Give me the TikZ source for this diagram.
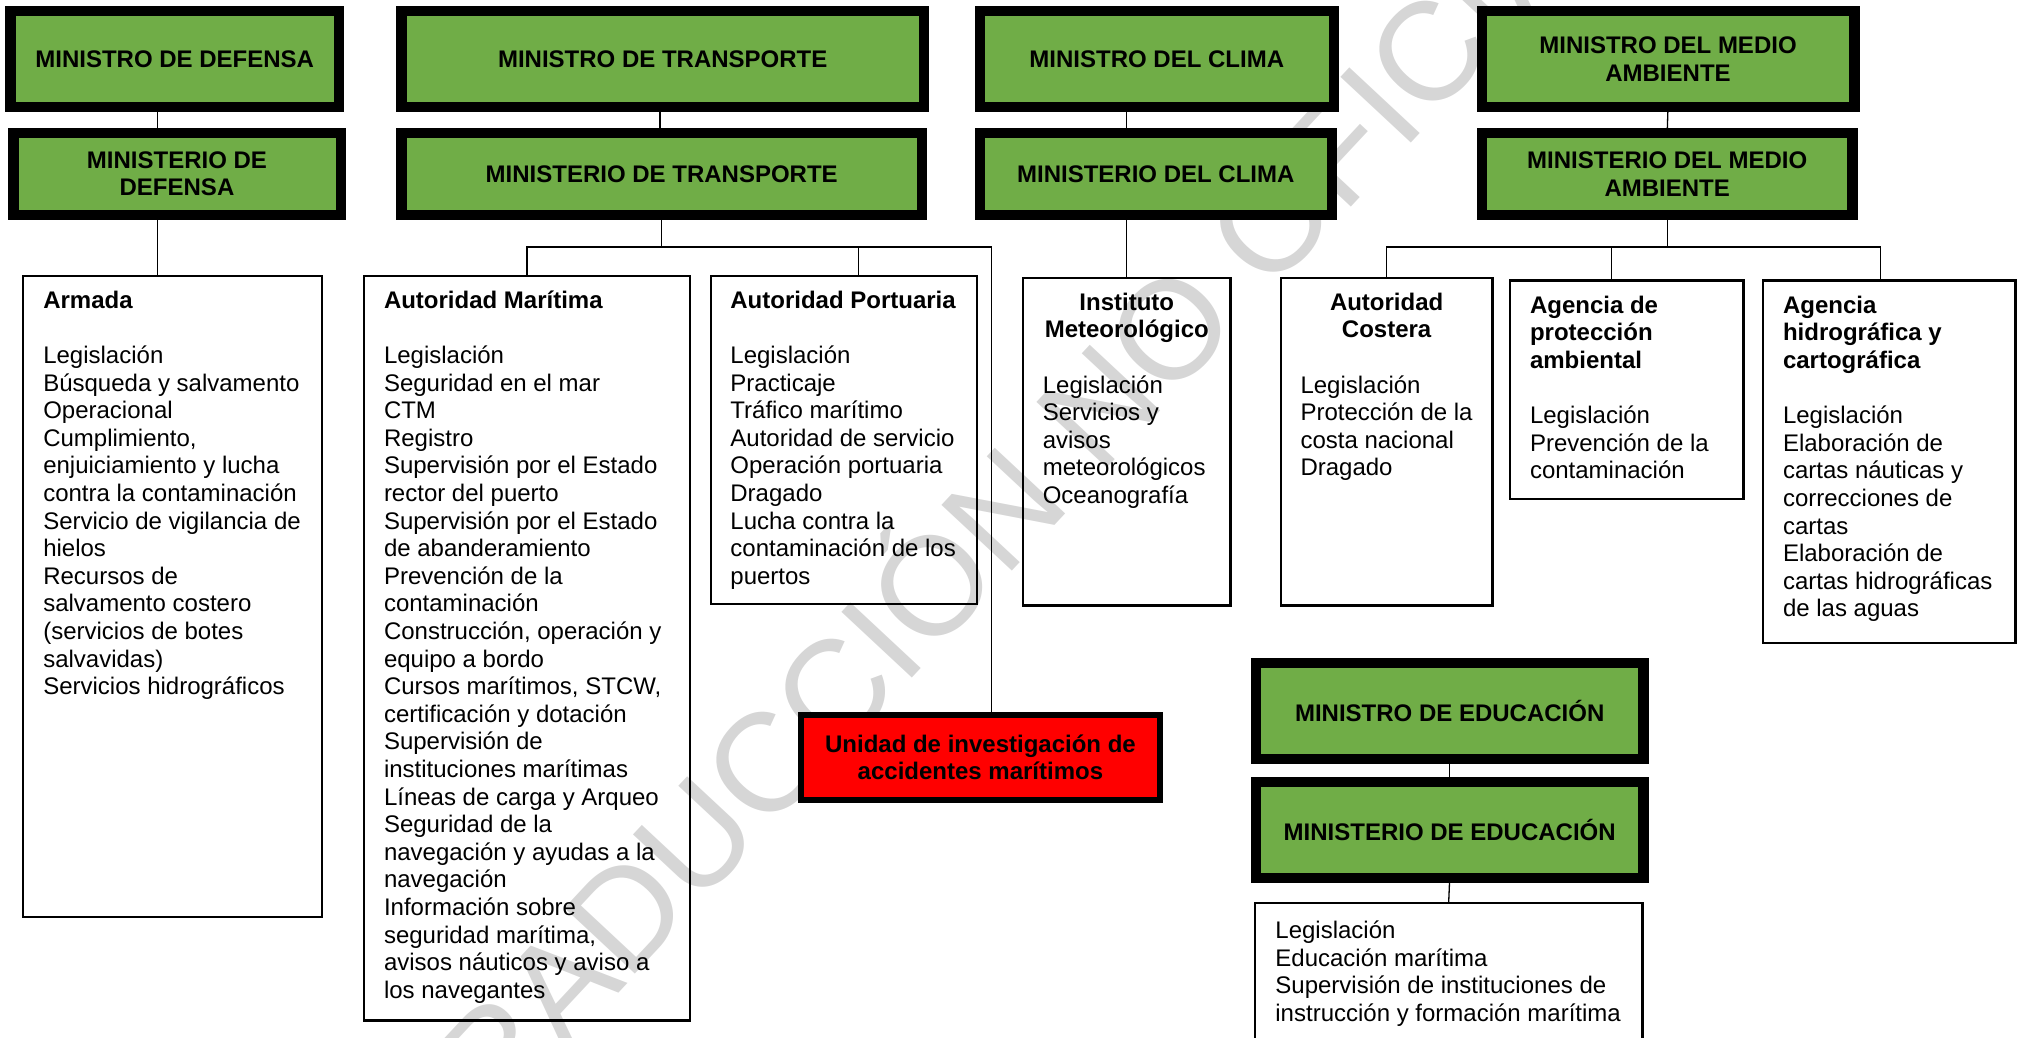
\documentclass[tikz,border=0pt]{standalone}
\usepackage{fontspec}
\setmainfont{Liberation Sans}
\usetikzlibrary{calc}
\definecolor{mingreen}{RGB}{112,173,71}
\definecolor{wmgray}{RGB}{214,214,214}
\tikzset{
  gbox/.style={draw=black, line width=10.5pt, fill=mingreen, inner sep=0pt, outer sep=0pt,
    align=center, font=\fontsize{24}{27.6}\selectfont\bfseries},
  wbox/.style={draw=black, line width=2.4pt, inner sep=0pt, outer sep=0pt},
  rbox/.style={draw=black, line width=6pt, fill=red, inner sep=0pt, outer sep=0pt,
    align=center, font=\fontsize{24}{27.6}\selectfont\bfseries},
  txt/.style={inner sep=0pt, outer sep=0pt, align=left, anchor=north west,
    font=\fontsize{24}{27.6}\selectfont},
  ttl/.style={inner sep=0pt, outer sep=0pt, align=center, anchor=north,
    font=\fontsize{24}{27.6}\selectfont\bfseries},
  conn/.style={draw=black, line width=1.3pt},
  wm/.style={inner sep=0pt, outer sep=0pt, rotate=47, text=wmgray,
    font=\fontsize{140}{140}\selectfont},
}
\begin{document}
\begin{tikzpicture}[x=1pt,y=-1pt]
\useasboundingbox (0,0) rectangle (2027,1038);
% watermark
\node[wm] (wm) at (995,501) {TRADUCCIÓN NO OFICIAL};

% ministers (top row)
\node[gbox, minimum width=328.1pt, minimum height=96.1pt] (g1) at (174.7,59) {MINISTRO DE DEFENSA};
\node[gbox, minimum width=327.5pt, minimum height=81.8pt] (g2) at (177,173.85) {MINISTERIO DE\\DEFENSA};
\node[gbox, minimum width=522.1pt, minimum height=96.1pt] (g3) at (662.7,59) {MINISTRO DE TRANSPORTE};
\node[gbox, minimum width=520.1pt, minimum height=81.8pt] (g4) at (661.7,173.85) {MINISTERIO DE TRANSPORTE};
\node[gbox, minimum width=353.9pt, minimum height=96.1pt] (g5) at (1156.8,59) {MINISTRO DEL CLIMA};
\node[gbox, minimum width=351.9pt, minimum height=81.8pt] (g6) at (1155.8,173.85) {MINISTERIO DEL CLIMA};
\node[gbox, minimum width=372.5pt, minimum height=96.1pt] (g7) at (1668,59) {MINISTRO DEL MEDIO\\AMBIENTE};
\node[gbox, minimum width=370.8pt, minimum height=81.8pt] (g8) at (1667.2,173.85) {MINISTERIO DEL MEDIO\\AMBIENTE};
\node[gbox, minimum width=387.7pt, minimum height=95.8pt] (g9) at (1449.7,710.85) {MINISTRO DE EDUCACIÓN};
\node[gbox, minimum width=387.7pt, minimum height=95.8pt] (g10) at (1449.7,829.85) {MINISTERIO DE EDUCACIÓN};

% red unit
\node[rbox, minimum width=358.5pt, minimum height=85.6pt] (red) at (980.45,757.5) {Unidad de investigación de\\accidentes marítimos};

% white boxes
\node[wbox, minimum width=298.9pt, minimum height=640.6pt] (w1) at (172.55,596.5) {};
\node[wbox, minimum width=325.6pt, minimum height=744.1pt] (w2) at (527,648.25) {};
\node[wbox, minimum width=266pt, minimum height=327.6pt] (w3) at (844,440) {};
\node[wbox, minimum width=207.1pt, minimum height=327.3pt] (w4) at (1126.75,441.85) {};
\node[wbox, minimum width=211.9pt, minimum height=327.3pt] (w5) at (1386.65,441.85) {};
\node[wbox, minimum width=233.3pt, minimum height=218.3pt] (w6) at (1626.65,389.65) {};
\node[wbox, minimum width=252.6pt, minimum height=362.6pt] (w7) at (1889,461.8) {};
\node[wbox, minimum width=387.3pt, minimum height=175pt] (w8) at (1448.65,990.4) {};

% texts
\node[txt] (t1) at (43.3,289) {\strut\textbf{Armada}\\[27.6pt]
Legislación\\
Búsqueda y salvamento\\
Operacional\\
Cumplimiento,\\
enjuiciamiento y lucha\\
contra la contaminación\\
Servicio de vigilancia de\\
hielos\\
Recursos de\\
salvamento costero\\
(servicios de botes\\
salvavidas)\\
Servicios hidrográficos};

\node[txt] (t2) at (384,289) {\strut\textbf{Autoridad Marítima}\\[27.6pt]
Legislación\\
Seguridad en el mar\\
CTM\\
Registro\\
Supervisión por el Estado\\
rector del puerto\\
Supervisión por el Estado\\
de abanderamiento\\
Prevención de la\\
contaminación\\
Construcción, operación y\\
equipo a bordo\\
Cursos marítimos, STCW,\\
certificación y dotación\\
Supervisión de\\
instituciones marítimas\\
Líneas de carga y Arqueo\\
Seguridad de la\\
navegación y ayudas a la\\
navegación\\
Información sobre\\
seguridad marítima,\\
avisos náuticos y aviso a\\
los navegantes};

\node[txt] (t3) at (730.4,289) {\strut\textbf{Autoridad Portuaria}\\[27.6pt]
Legislación\\
Practicaje\\
Tráfico marítimo\\
Autoridad de servicio\\
Operación portuaria\\
Dragado\\
Lucha contra la\\
contaminación de los\\
puertos};

\node[ttl] (t4a) at (1126.75,291) {\strut Instituto\\Meteorológico};
\node[txt] (t4b) at (1042.8,373.8) {\strut Legislación\\
Servicios y\\
avisos\\
meteorológicos\\
Oceanografía};

\node[ttl] (t5a) at (1386.65,291) {\strut Autoridad\\Costera};
\node[txt] (t5b) at (1300.5,373.8) {\strut Legislación\\
Protección de la\\
costa nacional\\
Dragado};

\node[txt] (t6) at (1530,294) {\strut\textbf{Agencia de}\\\textbf{protección}\\\textbf{ambiental}\\[27.6pt]
Legislación\\
Prevención de la\\
contaminación};

\node[txt] (t7) at (1783,294) {\strut\textbf{Agencia}\\\textbf{hidrográfica y}\\\textbf{cartográfica}\\[27.6pt]
Legislación\\
Elaboración de\\
cartas náuticas y\\
correcciones de\\
cartas\\
Elaboración de\\
cartas hidrográficas\\
de las aguas};

\node[txt] (t8) at (1275.4,919.3) {\strut Legislación\\
Educación marítima\\
Supervisión de instituciones de\\
instrucción y formación marítima};

% connectors
\coordinate (dx) at (157.8,0);
\coordinate (tx) at (660,0);
\coordinate (tb) at (0,247);
\coordinate (px) at (858.6,0);
\coordinate (rx) at (991.5,0);
\coordinate (ax) at (1611.7,0);
\coordinate (hx) at (1880.7,0);
\draw[conn] (g1.south -| dx) -- (g2.north -| dx);
\draw[conn] (g2.south -| dx) -- (w1.north -| dx);
\draw[conn] (g3.south -| tx) -- (g4.north -| tx);
\draw[conn] (g4.south) -- (g4.south |- tb);
\draw[conn] (w2.north) -- (w2.north |- tb) -- (rx |- tb) -- (rx |- red.north);
\draw[conn] (px |- tb) -- (px |- w3.north);
\draw[conn] (g5.south -| w4.north) -- (g6.north -| w4.north);
\draw[conn] (g6.south -| w4.north) -- (w4.north);
\draw[conn] (g7.south) -- (g8.north);
\draw[conn] (g8.south) -- (g8.south |- tb);
\draw[conn] (w5.north) -- (w5.north |- tb) -- (hx |- tb) -- (hx |- w7.north);
\draw[conn] (ax |- tb) -- (ax |- w6.north);
\draw[conn] (g9.south) -- (g10.north);
\draw[conn] (g10.south) -- (w8.north);
\end{tikzpicture}
\end{document}
